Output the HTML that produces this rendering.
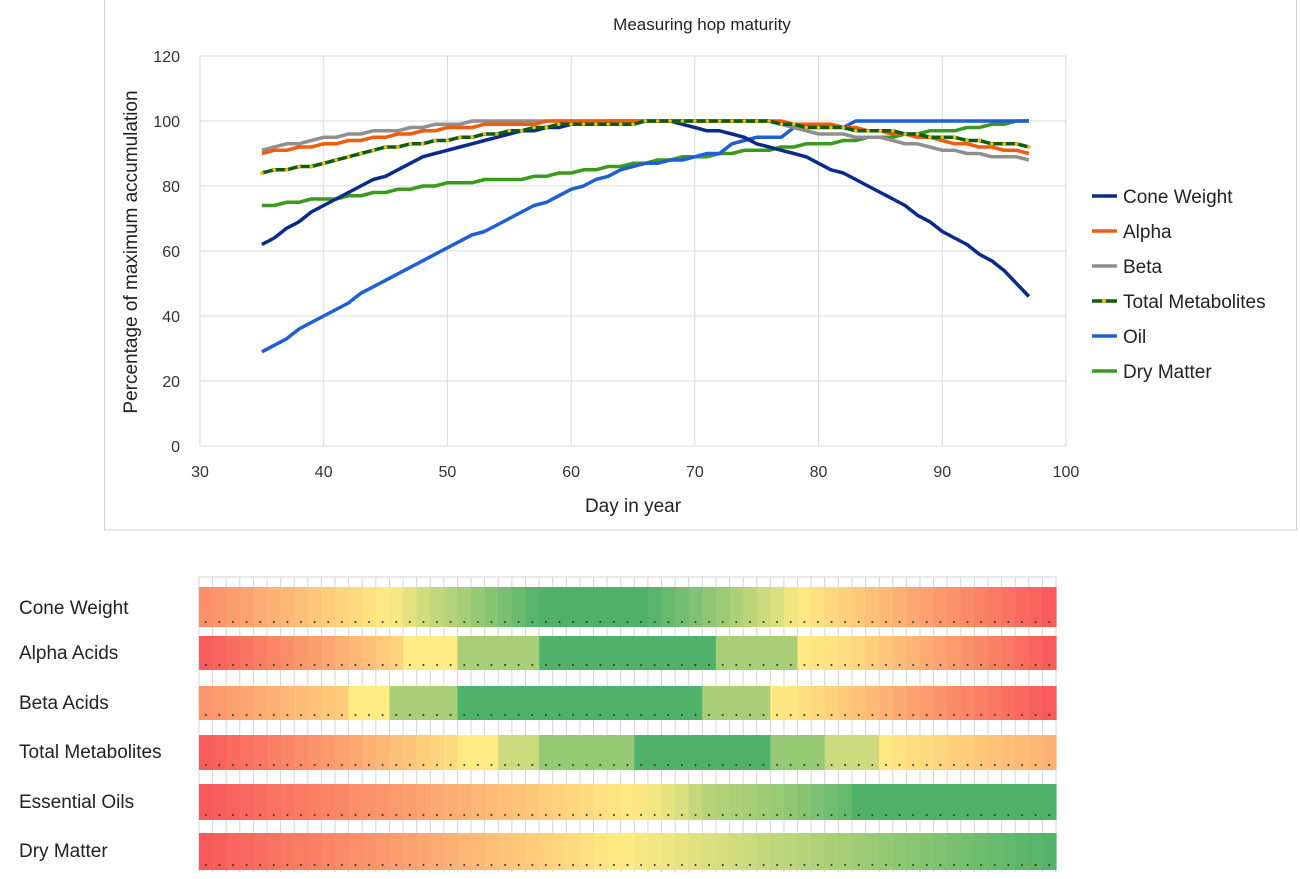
<!DOCTYPE html><html><head><meta charset="utf-8"><style>
body{margin:0;background:#fff;width:1300px;height:874px;overflow:hidden;font-family:"Liberation Sans",sans-serif}
</style></head><body>
<svg id="s" width="1300" height="874" xmlns="http://www.w3.org/2000/svg" font-family="Liberation Sans, sans-serif">
<rect x="104.5" y="-1" width="1192" height="531" fill="#fff" stroke="#d0d0d0"/>
<text x="702" y="30" font-size="17" text-anchor="middle" fill="#222">Measuring hop maturity</text>
<g id="grid"></g>
<text transform="translate(137,252) rotate(-90)" font-size="19" text-anchor="middle" fill="#222">Percentage of maximum accumulation</text>
<text x="633" y="512" font-size="19" text-anchor="middle" fill="#222">Day in year</text>
<g id="series"></g>
<g id="legend" font-size="19" fill="#222"></g>
<g id="heat"></g>
<g font-size="19" fill="#222">
<text x="19" y="614">Cone Weight</text>
<text x="19" y="659">Alpha Acids</text>
<text x="19" y="709">Beta Acids</text>
<text x="19" y="758">Total Metabolites</text>
<text x="19" y="808">Essential Oils</text>
<text x="19" y="857">Dry Matter</text>
</g>
</svg>
<script>
const NS="http://www.w3.org/2000/svg";
function el(p,t,a,txt){const e=document.createElementNS(NS,t);for(const k in a)e.setAttribute(k,a[k]);if(txt!=null)e.textContent=txt;document.getElementById(p).appendChild(e);return e;}
const X=d=>200+(d-30)*12.371, Y=v=>446-v*3.25;
for(let v=0;v<=120;v+=20){el("grid","line",{x1:200,x2:1066,y1:Y(v),y2:Y(v),stroke:"#d9d9d9","stroke-width":1});el("grid","text",{x:180,y:Y(v)+6,"font-size":16,"text-anchor":"end",fill:"#333"},v);}
for(let d=30;d<=100;d+=10){el("grid","line",{x1:X(d),x2:X(d),y1:Y(120),y2:Y(0),stroke:"#d9d9d9","stroke-width":1});el("grid","text",{x:X(d),y:477,"font-size":16,"text-anchor":"middle",fill:"#333"},d);}
function interp(k){const ks=Object.keys(k).map(Number).sort((a,b)=>a-b);const r=[];for(let d=35;d<=97;d++){let i=0;while(i<ks.length-1&&ks[i+1]<d)i++;const a=ks[i],b=ks[Math.min(i+1,ks.length-1)];const v=a==b?k[a]:k[a]+(k[b]-k[a])*(d-a)/(b-a);r.push(Math.round(v));}return r;}
const S={
cone:interp({35:62,40:74,43:80,45:83,48:89,50:91,55:96,60:99,65:100,68:100,70:98,73:96,75:93,78:90,80:87,83:82,85:78,87:74,90:66,92:62,95:54,97:46}),
alpha:interp({35:90,40:93,45:95,50:98,55:99,60:100,70:100,75:100,80:99,85:97,90:94,95:91,97:90}),
beta:interp({35:91,40:95,45:97,50:99,54:100,70:100,76:100,80:96,85:95,90:91,95:89,97:88}),
tm:interp({35:84,40:87,45:92,50:94,55:97,60:99,65:99,67:100,75:100,80:98,85:97,90:95,95:93,97:92}),
oil:interp({35:29,40:40,45:51,50:61,55:70,60:79,65:86,70:89,72:90,73:93,75:95,77:95,78:98,80:99,82:98,83:100,97:100}),
dry:interp({35:74,40:76,45:78,50:81,55:82,60:84,65:87,70:89,75:91,80:93,85:95,90:97,95:99,97:100})};
function poly(arr){return arr.map((v,i)=>X(35+i).toFixed(1)+","+Y(v).toFixed(1)).join(" ");}
const order=[["dry","#3a9a1c"],["oil","#1f5fd6"],["cone","#0a2a8c"],["beta","#8f8f8f"],["alpha","#f25a0c"],["tm","#0d5c10"]];
for(const [k,c] of order){el("series","polyline",{points:poly(S[k]),fill:"none",stroke:c,"stroke-width":3.5,"stroke-linejoin":"round"});
 if(k=="tm")S[k].forEach((v,i)=>el("series","circle",{cx:X(35+i),cy:Y(v),r:1.8,fill:"#f0c000"}));}
const leg=[["Cone Weight","#0a2a8c"],["Alpha","#f25a0c"],["Beta","#8f8f8f"],["Total Metabolites","#0d5c10"],["Oil","#1f5fd6"],["Dry Matter","#3a9a1c"]];
leg.forEach((l,i)=>{const y=196+i*35;el("legend","line",{x1:1092,x2:1117,y1:y,y2:y,stroke:l[1],"stroke-width":3.5});if(i==3)el("legend","circle",{cx:1104,cy:y,r:2,fill:"#f0c000"});el("legend","text",{x:1123,y:y+7},l[0]);});
// heatmap
const x0=199,x1=1056,n=63,cw=(x1-x0)/n;
function col(t){t=Math.max(0,Math.min(1,t));const r=[248,88,90],yl=[255,235,132],g=[80,178,106];let a,b,u;if(t<.5){a=r;b=yl;u=t*2}else{a=yl;b=g;u=(t-.5)*2}return "rgb("+a.map((c,i)=>Math.round(c+(b[i]-c)*u)).join(",")+")";}
function kf(k,x){for(let i=0;i<k.length-1;i++){if(x<=k[i+1][0]){const[a,ta]=k[i],[b,tb]=k[i+1];return b==a?tb:ta+(tb-ta)*(x-a)/(b-a);}}return k[k.length-1][1];}
for(let i=0;i<=n;i++){el("heat","line",{x1:x0+i*cw,x2:x0+i*cw,y1:577,y2:872,stroke:"#d4d4d4","stroke-width":1});}
el("heat","line",{x1:x0,x2:x1,y1:577,y2:577,stroke:"#d4d4d4"});
const rows=[
[[[199,.18],[390,.5],[420,.62],[510,.9],[540,1],[645,1],[700,.85],[780,.6],[800,.5],[900,.3],[1056,0]],587,627],
[[[199,0],[400,.42],[401,.5],[457,.5],[458,.75],[539,.75],[540,1],[716,1],[717,.75],[797,.75],[798,.5],[852,.45],[1056,0]],636,670],
[[[199,.2],[345,.4],[346,.5],[389,.5],[390,.75],[456,.75],[457,1],[703,1],[704,.75],[769,.75],[770,.5],[811,.45],[940,.2],[1056,0]],686,720],
[[[199,0],[456,.45],[457,.5],[497,.5],[498,.65],[539,.65],[540,.8],[634,.8],[635,1],[769,1],[770,.8],[824,.8],[825,.65],[879,.65],[880,.5],[915,.45],[1056,.3]],735,770],
[[[199,0],[635,.5],[680,.6],[703,.7],[784,.8],[852,.95],[853,1],[1056,1]],784,820],
[[[199,0],[620,.5],[1056,1]],833,870]];
for(const [k,y0,y1] of rows){
 for(let i=0;i<n;i++){const cx=x0+i*cw+cw/2;el("heat","rect",{x:x0+i*cw,y:y0,width:cw+0.6,height:y1-y0,fill:col(kf(k,cx))});
 el("heat","circle",{cx:cx,cy:y1-5,r:1,fill:"#333"});}}
</script>
</body></html>
